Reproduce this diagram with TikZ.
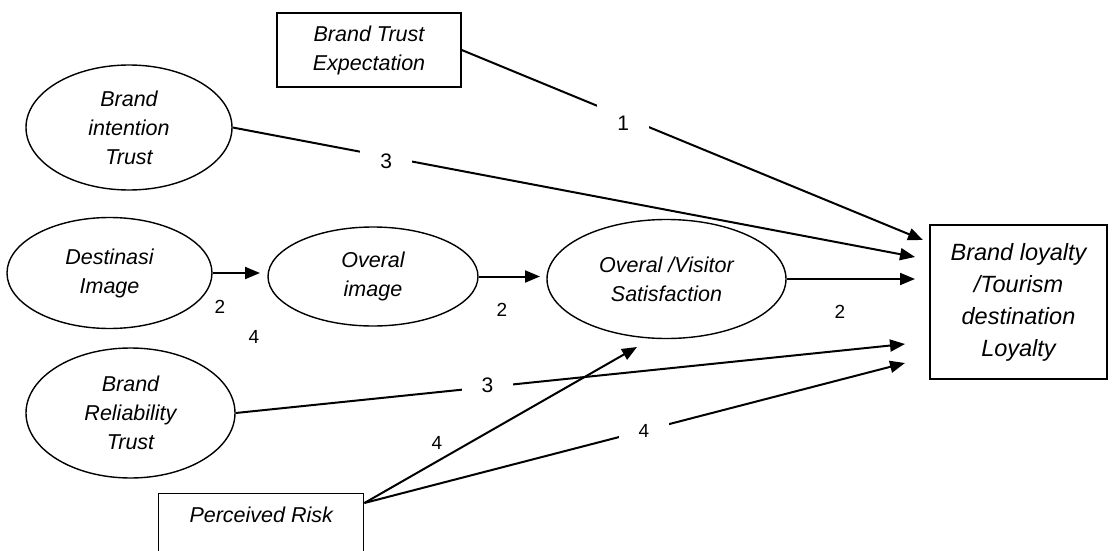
\documentclass[tikz,border=0pt]{standalone}
\usepackage{fontspec}
\setmainfont{Liberation Sans}
\usetikzlibrary{shapes.geometric,arrows.meta}
\tikzset{
  construct/.style={ellipse, draw, line width=1.4pt, inner sep=0pt, align=center,
    font=\fontsize{21.5}{29}\selectfont\itshape},
  measure/.style={rectangle, draw, line width=1.4pt, align=center,
    font=\fontsize{21.5}{29}\selectfont\itshape},
  link/.style={line width=2pt},
  arr/.style={link, -{Triangle[length=15pt,width=12pt]}},
  num/.style={font=\fontsize{21}{24}\selectfont},
  smallnum/.style={font=\fontsize{19}{22}\selectfont},
  gapnum/.style={fill=white, inner xsep=20pt, inner ysep=12pt},
}
\begin{document}
\begin{tikzpicture}[x=1pt,y=-1pt]
      \useasboundingbox (0,0) rectangle (1114,551);
      % constructs
      \node[measure, minimum width=184pt, minimum height=74pt] (bte) at (369,50) {Brand Trust\\Expectation};
      \node[construct, minimum width=206pt, minimum height=125pt] (bit) at (129,127.5) {Brand\\intention\\Trust};
      \node[construct, minimum width=205pt, minimum height=111pt] (dest) at (109.5,273) {Destinasi\\Image};
      \node[construct, minimum width=210pt, minimum height=99pt] (overal) at (373,276.5) {Overal\\image};
      \node[construct, minimum width=239pt, minimum height=119pt] (sat) at (666.5,279) {Overal /Visitor\\Satisfaction};
      \node[construct, minimum width=209pt, minimum height=130pt] (brt) at (130.5,413) {Brand\\Reliability\\Trust};
      \node[measure, minimum width=177pt, minimum height=154pt,
        font=\fontsize{23.5}{32}\selectfont\itshape] (loyal) at (1018.5,302) {Brand loyalty\\/Tourism\\destination\\Loyalty};
      \node[measure, anchor=north west, minimum width=205pt, inner ysep=0pt,
        text height=29pt, text depth=38pt] (risk) at (158,493) {Perceived Risk};
      % free arrow ends
      \coordinate (tipA) at (923,240);
      \coordinate (tipB) at (915,257);
      \coordinate (tipC) at (915,281);
      \coordinate (tipD) at (905,344);
      \coordinate (tipE) at (905,363);
      \coordinate (tipO) at (260,274);
      \coordinate (tipP) at (540,276);
      \coordinate (tipS) at (637,347);
      \begin{scope}[arr]
        \draw (bte.east) -- node[num, gapnum, pos=.35, yshift=-7pt] (n1) {1} (tipA);
        \draw (bit.east) -- node[num, gapnum, pos=.225, yshift=-5pt] (n3a) {3} (tipB);
        \draw (dest.east) -- (dest.east -| tipO);
        \draw (overal.east) -- (overal.east -| tipP);
        \draw (sat.east) -- (sat.east -| tipC);
        \draw (brt.east) -- node[num, gapnum, pos=.376, yshift=2pt] (n3b) {3} (tipD);
        \draw ([yshift=-10pt]risk.north east) -- (tipS);
        \draw ([yshift=-10pt]risk.north east) -- node[smallnum, gapnum, pos=.517] (n4b) {4} (tipE);
      \end{scope}
      % path labels
      \node[smallnum] (n2a) at (220,307) {2};
      \node[smallnum] (n4a) at (254,337) {4};
      \node[smallnum] (n2b) at (502,310) {2};
      \node[smallnum] (n2c) at (840,312) {2};
      \node[smallnum] (n4c) at (437,443) {4};
    \end{tikzpicture}
\end{document}
